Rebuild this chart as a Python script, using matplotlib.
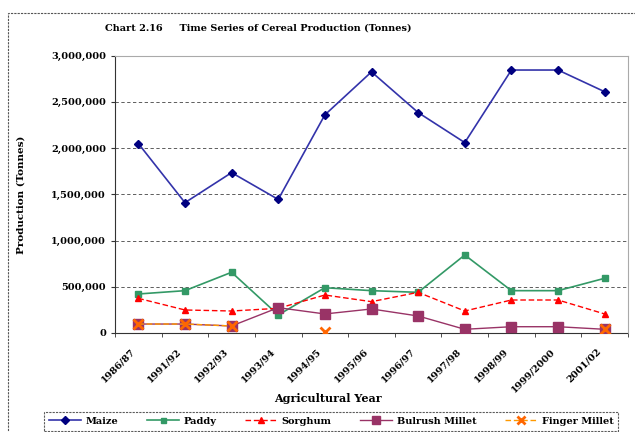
import numpy as np
import matplotlib
matplotlib.use("Agg")
import matplotlib.pyplot as plt
from matplotlib.ticker import FuncFormatter, FixedLocator
from matplotlib.patches import Rectangle
from matplotlib.transforms import ScaledTranslation

plt.rcParams['font.family'] = ['DejaVu Serif']
plt.rcParams['font.weight'] = 'bold'

years = ["1986/87", "1991/92", "1992/93", "1993/94", "1994/95", "1995/96",
         "1996/97", "1997/98", "1998/99", "1999/2000", "2001/02"]
maize = [2050000, 1410000, 1735000, 1445000, 2360000, 2825000,
         2385000, 2060000, 2845000, 2845000, 2610000]
paddy = [422000, 458000, 657000, 195000, 490000, 458000,
         440000, 844000, 458000, 458000, 592000]
sorghum = [375000, 249000, 238000, 267000, 411000, 339000,
           440000, 238000, 357000, 357000, 206000]
bulrush = [97000, 97000, 76000, 274000, 206000, 260000,
           184000, 40000, 68000, 68000, 40000]
finger = [97000, 97000, 76000, np.nan, 14000, np.nan,
          np.nan, np.nan, np.nan, np.nan, 40000]

fig = plt.figure(figsize=(6.35, 4.32), dpi=100)
ax = fig.add_axes([115 / 635, 1 - 333 / 432, 513 / 635, (333 - 55.7) / 432])

x = np.arange(len(years))
ax.plot(x, maize, color="#3333aa", lw=1.2, marker="D", ms=4.5,
        mfc="#000080", mec="#000080", label="Maize", zorder=4)
ax.plot(x, paddy, color="#339966", lw=1.2, marker="s", ms=4.5,
        mfc="#339966", mec="#339966", label="Paddy", zorder=4)
ax.plot(x, sorghum, color="#ff0000", lw=1.0, ls=(0, (4, 2)), marker="^", ms=5,
        mfc="#ff0000", mec="#ff0000", label="Sorghum", zorder=4)
ax.plot(x, bulrush, color="#993366", lw=1.0, marker="s", ms=6.5,
        mfc="#993366", mec="#993366", label="Bulrush Millet", zorder=4)
ax.plot(x, finger, color="#ff9900", lw=1.0, ls=(0, (4, 2)), marker="x", ms=7,
        mew=2, mec="#ff6600", label="Finger Millet", zorder=5)

ax.set_xlim(-0.5, len(years) - 0.5)
ax.set_ylim(0, 3000000)
ax.set_yticks(np.arange(0, 3000001, 500000))
ax.yaxis.set_major_formatter(FuncFormatter(lambda v, p: f"{int(v):,}"))
ax.grid(axis="y", color="#444444", ls=(0, (4, 3)), lw=0.6)
ax.set_axisbelow(True)

ax.set_xticks(x)
ax.set_xticklabels(years, rotation=45, ha="right", rotation_mode="anchor",
                   fontsize=7, fontweight="bold")
ax.tick_params(axis="x", which="major", length=0, pad=10)
shift = ScaledTranslation(-8 / 100, 0, fig.dpi_scale_trans)
for lab in ax.get_xticklabels():
    lab.set_transform(lab.get_transform() + shift)
ax.xaxis.set_minor_locator(FixedLocator(np.arange(-0.5, len(years), 1)))
ax.tick_params(axis="x", which="minor", length=3, direction="out", color="#333333")
ax.tick_params(axis="y", length=3, direction="out", labelsize=7, color="#333333")
for lab in ax.get_yticklabels():
    lab.set_fontweight("bold")

for side in ["top", "right"]:
    ax.spines[side].set_color("#aaaaaa")
    ax.spines[side].set_linewidth(0.8)
for side in ["left", "bottom"]:
    ax.spines[side].set_color("#333333")
    ax.spines[side].set_linestyle((0, (2, 1)))
    ax.spines[side].set_linewidth(0.8)

ax.set_ylabel("Production (Tonnes)", fontsize=7.5, fontweight="bold")
ax.yaxis.set_label_coords(-0.175, 0.5)
fig.text(328 / 635, 1 - 398 / 432, "Agricultural Year", ha="center", va="center",
         fontsize=8, fontweight="bold")
fig.text(258 / 635, 1 - 28 / 432,
         "Chart 2.16     Time Series of Cereal Production (Tonnes)",
         ha="center", va="center", fontsize=7, fontweight="bold")

leg = fig.legend(loc="upper left", bbox_to_anchor=(44 / 635, 1 - 412 / 432),
                 ncol=5, frameon=True, fancybox=False, markerscale=0.8,
                 borderpad=0.5, borderaxespad=0, columnspacing=2.9,
                 handlelength=3.3, handletextpad=0.5,
                 prop={"weight": "bold", "size": 7})
leg.get_frame().set_edgecolor("#333333")
leg.get_frame().set_linestyle((0, (2, 1)))
leg.get_frame().set_linewidth(0.8)

fig.patches.append(Rectangle((8 / 635, -0.05), 1.1, 1.05 - 13 / 432,
                             transform=fig.transFigure, fill=False,
                             ec="#555555", lw=0.8, ls=(0, (2, 1))))

fig.savefig("out.png", dpi=100)
